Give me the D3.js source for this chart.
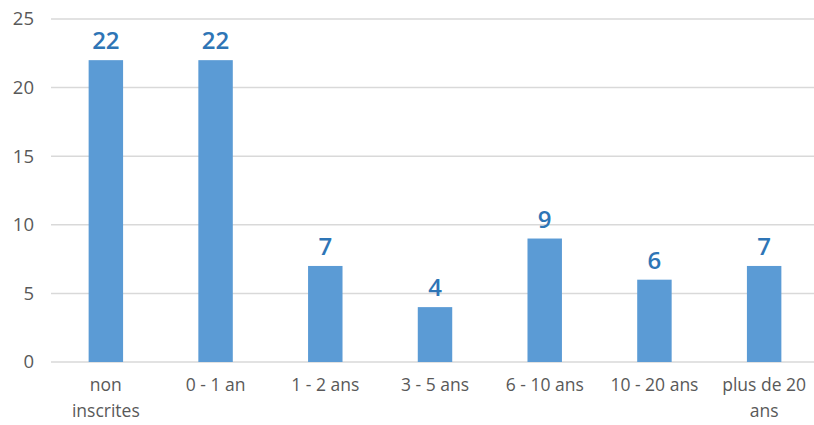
<!DOCTYPE html>
<html><head><meta charset="utf-8">
<script src="https://cdn.jsdelivr.net/npm/d3@7"></script>
<style>body{margin:0;background:#fff;}svg{display:block;}</style>
</head><body>
<svg id="c" width="814" height="425"></svg>
<script>
const categories = [["non","inscrites"],["0 - 1 an"],["1 - 2 ans"],["3 - 5 ans"],["6 - 10 ans"],["10 - 20 ans"],["plus de 20","ans"]];
const values = [22, 22, 7, 4, 9, 6, 7];
const yTicks = [0, 5, 10, 15, 20, 25];

const svg = d3.select("#c");
const keys = categories.map(c => c.join(" "));
const x = d3.scaleBand().domain(keys).range([51, 819]).paddingInner(0.686).paddingOuter(0.343);
const y = d3.scaleLinear().domain([0, 25]).range([362, 19]);

// gridlines
svg.append("g").selectAll("line").data(yTicks).join("line")
  .attr("x1", 51).attr("x2", 814)
  .attr("y1", d => y(d)).attr("y2", d => y(d))
  .attr("stroke", "#d9d9d9").attr("stroke-width", 1.5);

// y axis labels
const yAxis = d3.axisLeft(y).tickValues(yTicks).tickSize(0).tickPadding(0);
const ga = svg.append("g").attr("transform", "translate(34,0)").call(yAxis);
ga.select(".domain").remove();
ga.selectAll("text").attr("font-family", "Open Sans").attr("font-size", 18.5).attr("fill", "#595959");

// bars
svg.append("g").selectAll("rect").data(values).join("rect")
  .attr("x", (d, i) => x(keys[i])).attr("width", x.bandwidth())
  .attr("y", d => y(d)).attr("height", d => y(0) - y(d))
  .attr("fill", "#5b9bd5");

// value labels
svg.append("g").selectAll("text").data(values).join("text")
  .attr("x", (d, i) => x(keys[i]) + x.bandwidth() / 2)
  .attr("y", d => y(d) - 11)
  .attr("text-anchor", "middle")
  .attr("font-family", "Open Sans").attr("font-weight", 600).attr("font-size", 24)
  .attr("fill", "#2e75b6")
  .text(d => d);

// x labels
const xl = svg.append("g").selectAll("text").data(categories).join("text")
  .attr("x", (d, i) => x(keys[i]) + x.bandwidth() / 2)
  .attr("y", 391)
  .attr("text-anchor", "middle")
  .attr("font-family", "Open Sans").attr("font-size", 17.5).attr("fill", "#595959");
xl.selectAll("tspan").data(d => d).join("tspan")
  .attr("x", function() { return this.parentNode.getAttribute("x"); })
  .attr("dy", (d, i) => i === 0 ? 0 : 26)
  .text(d => d);
</script>
</body></html>
